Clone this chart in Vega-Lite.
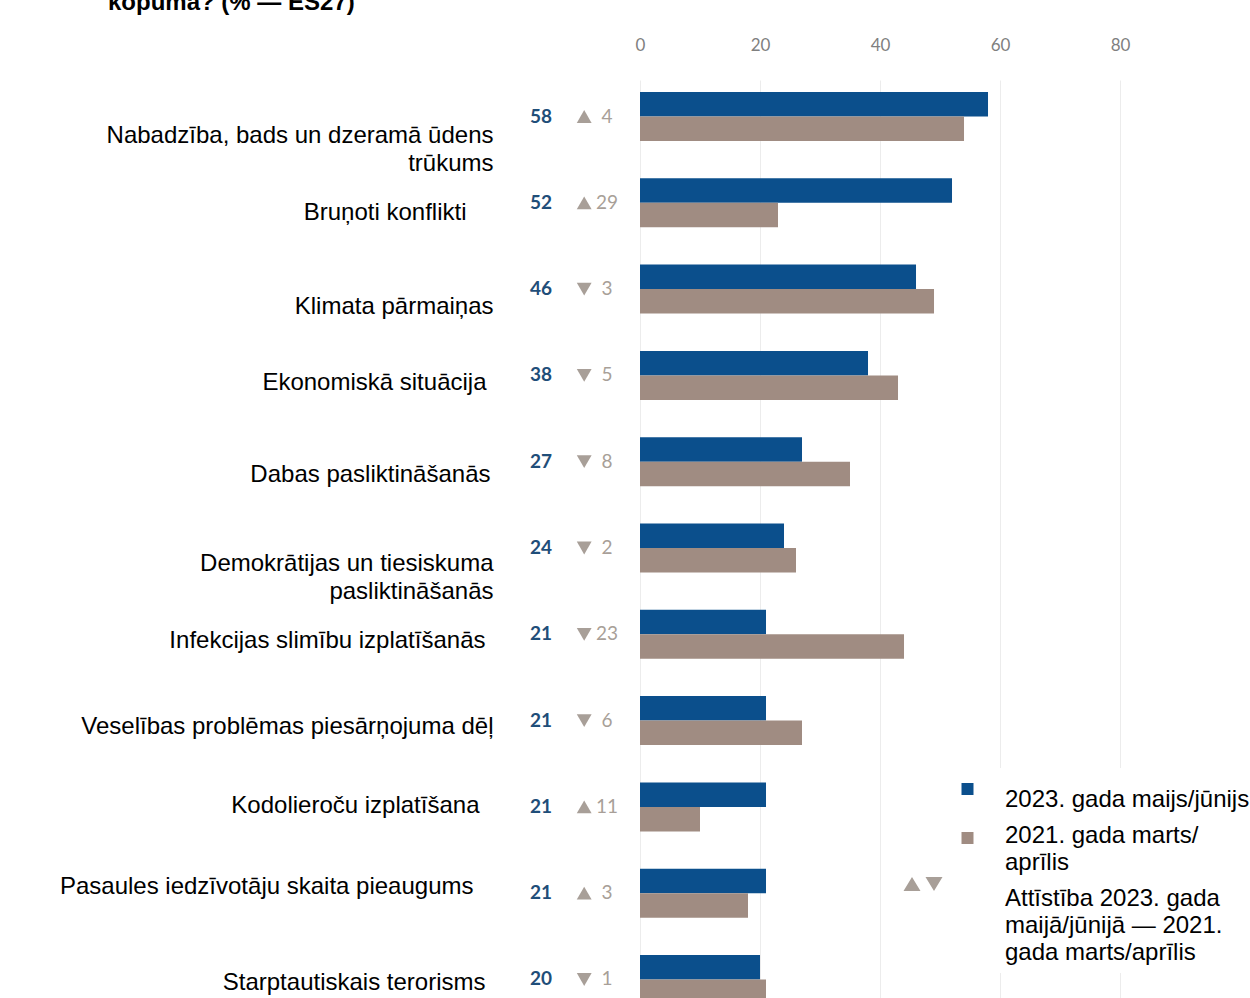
{
  "$schema": "https://vega.github.io/schema/vega-lite/v6.json",
  "autosize": {"type": "none"},
  "padding": {"left": 640, "top": 80, "right": 44, "bottom": 0},
  "width": 566,
  "height": 918,
  "background": "white",
  "title": {
    "text": "kopumā? (% — ES27)",
    "anchor": "start",
    "frame": "group",
    "dx": -532,
    "font": "Liberation Sans",
    "fontSize": 24,
    "fontWeight": "bold",
    "color": "black",
    "baseline": "alphabetic",
    "offset": 2
  },
  "datasets": {
    "bars": [
      {"category": "Nabadzība, bads un dzeramā ūdens trūkums", "series": "2023. gada maijs/jūnijs", "value": 58},
      {"category": "Nabadzība, bads un dzeramā ūdens trūkums", "series": "2021. gada marts/aprīlis", "value": 54},
      {"category": "Bruņoti konflikti", "series": "2023. gada maijs/jūnijs", "value": 52},
      {"category": "Bruņoti konflikti", "series": "2021. gada marts/aprīlis", "value": 23},
      {"category": "Klimata pārmaiņas", "series": "2023. gada maijs/jūnijs", "value": 46},
      {"category": "Klimata pārmaiņas", "series": "2021. gada marts/aprīlis", "value": 49},
      {"category": "Ekonomiskā situācija", "series": "2023. gada maijs/jūnijs", "value": 38},
      {"category": "Ekonomiskā situācija", "series": "2021. gada marts/aprīlis", "value": 43},
      {"category": "Dabas pasliktināšanās", "series": "2023. gada maijs/jūnijs", "value": 27},
      {"category": "Dabas pasliktināšanās", "series": "2021. gada marts/aprīlis", "value": 35},
      {"category": "Demokrātijas un tiesiskuma pasliktināšanās", "series": "2023. gada maijs/jūnijs", "value": 24},
      {"category": "Demokrātijas un tiesiskuma pasliktināšanās", "series": "2021. gada marts/aprīlis", "value": 26},
      {"category": "Infekcijas slimību izplatīšanās", "series": "2023. gada maijs/jūnijs", "value": 21},
      {"category": "Infekcijas slimību izplatīšanās", "series": "2021. gada marts/aprīlis", "value": 44},
      {"category": "Veselības problēmas piesārņojuma dēļ", "series": "2023. gada maijs/jūnijs", "value": 21},
      {"category": "Veselības problēmas piesārņojuma dēļ", "series": "2021. gada marts/aprīlis", "value": 27},
      {"category": "Kodolieroču izplatīšana", "series": "2023. gada maijs/jūnijs", "value": 21},
      {"category": "Kodolieroču izplatīšana", "series": "2021. gada marts/aprīlis", "value": 10},
      {"category": "Pasaules iedzīvotāju skaita pieaugums", "series": "2023. gada maijs/jūnijs", "value": 21},
      {"category": "Pasaules iedzīvotāju skaita pieaugums", "series": "2021. gada marts/aprīlis", "value": 18},
      {"category": "Starptautiskais terorisms", "series": "2023. gada maijs/jūnijs", "value": 20},
      {"category": "Starptautiskais terorisms", "series": "2021. gada marts/aprīlis", "value": 21}
    ],
    "labels": [
      {"category": "Nabadzība, bads un dzeramā ūdens trūkums", "v2023": 58, "dir": "up", "change": 4},
      {"category": "Bruņoti konflikti", "v2023": 52, "dir": "up", "change": 29},
      {"category": "Klimata pārmaiņas", "v2023": 46, "dir": "down", "change": 3},
      {"category": "Ekonomiskā situācija", "v2023": 38, "dir": "down", "change": 5},
      {"category": "Dabas pasliktināšanās", "v2023": 27, "dir": "down", "change": 8},
      {"category": "Demokrātijas un tiesiskuma pasliktināšanās", "v2023": 24, "dir": "down", "change": 2},
      {"category": "Infekcijas slimību izplatīšanās", "v2023": 21, "dir": "down", "change": 23},
      {"category": "Veselības problēmas piesārņojuma dēļ", "v2023": 21, "dir": "down", "change": 6},
      {"category": "Kodolieroču izplatīšana", "v2023": 21, "dir": "up", "change": 11},
      {"category": "Pasaules iedzīvotāju skaita pieaugums", "v2023": 21, "dir": "up", "change": 3},
      {"category": "Starptautiskais terorisms", "v2023": 20, "dir": "down", "change": 1}
    ]
  },
  "encoding": {
    "y": {
      "field": "category",
      "type": "nominal",
      "scale": {
        "domain": [
          "Nabadzība, bads un dzeramā ūdens trūkums",
          "Bruņoti konflikti",
          "Klimata pārmaiņas",
          "Ekonomiskā situācija",
          "Dabas pasliktināšanās",
          "Demokrātijas un tiesiskuma pasliktināšanās",
          "Infekcijas slimību izplatīšanās",
          "Veselības problēmas piesārņojuma dēļ",
          "Kodolieroču izplatīšana",
          "Pasaules iedzīvotāju skaita pieaugums",
          "Starptautiskais terorisms"
        ],
        "range": [0, 936],
        "paddingInner": 0.432,
        "paddingOuter": 0.139
      },
      "axis": {
        "title": null,
        "domain": false,
        "ticks": false,
        "labelFont": "Liberation Sans",
        "labelFontSize": 24,
        "labelColor": "black",
        "labelLimit": 0,
        "labelLineHeight": 28,
        "labelExpr": "datum.label == 'Nabadzība, bads un dzeramā ūdens trūkums' ? ['Nabadzība, bads un dzeramā ūdens', 'trūkums'] : datum.label == 'Demokrātijas un tiesiskuma pasliktināšanās' ? ['Demokrātijas un tiesiskuma', 'pasliktināšanās'] : datum.label",
        "labelPadding": {
          "condition": [
            {"test": "datum.value == 'Bruņoti konflikti'", "value": 174},
            {"test": "datum.value == 'Ekonomiskā situācija'", "value": 154},
            {"test": "datum.value == 'Dabas pasliktināšanās'", "value": 150},
            {"test": "datum.value == 'Infekcijas slimību izplatīšanās'", "value": 155},
            {"test": "datum.value == 'Kodolieroču izplatīšana'", "value": 161},
            {"test": "datum.value == 'Pasaules iedzīvotāju skaita pieaugums'", "value": 167},
            {"test": "datum.value == 'Starptautiskais terorisms'", "value": 155}
          ],
          "value": 147
        },
        "labelOffset": {
          "condition": [
            {"test": "datum.value == 'Nabadzība, bads un dzeramā ūdens trūkums'", "value": 19},
            {"test": "datum.value == 'Bruņoti konflikti'", "value": 10},
            {"test": "datum.value == 'Klimata pārmaiņas'", "value": 18},
            {"test": "datum.value == 'Ekonomiskā situācija'", "value": 8},
            {"test": "datum.value == 'Dabas pasliktināšanās'", "value": 13},
            {"test": "datum.value == 'Demokrātijas un tiesiskuma pasliktināšanās'", "value": 16},
            {"test": "datum.value == 'Infekcijas slimību izplatīšanās'", "value": 7},
            {"test": "datum.value == 'Veselības problēmas piesārņojuma dēļ'", "value": 6},
            {"test": "datum.value == 'Kodolieroču izplatīšana'", "value": -1},
            {"test": "datum.value == 'Pasaules iedzīvotāju skaita pieaugums'", "value": -6}
          ],
          "value": 4
        }
      }
    }
  },
  "layer": [
    {
      "data": {"name": "bars"},
      "mark": {"type": "bar"},
      "encoding": {
        "x": {
          "field": "value",
          "type": "quantitative",
          "scale": {"domain": [0, 94.33], "nice": false},
          "axis": {
            "orient": "top",
            "title": null,
            "values": [0, 20, 40, 60, 80],
            "domain": false,
            "ticks": false,
            "tickSize": 0,
            "labelFlush": false,
            "labelPadding": 26,
            "labelFont": "Lato",
            "labelFontSize": 17,
            "labelColor": "#7f7f7f",
            "grid": true,
            "gridColor": "#ececec"
          }
        },
        "yOffset": {
          "field": "series",
          "type": "nominal",
          "scale": {"domain": ["2023. gada maijs/jūnijs", "2021. gada marts/aprīlis"]}
        },
        "color": {
          "field": "series",
          "type": "nominal",
          "scale": {
            "domain": [
              "2023. gada maijs/jūnijs",
              "2021. gada marts/aprīlis",
              "Attīstība 2023. gada maijā/jūnijā — 2021. gada marts/aprīlis"
            ],
            "range": ["#0b4f8c", "#a08c82", "#a89f98"]
          },
          "legend": {
            "orient": "none",
            "legendX": 310,
            "legendY": 688,
            "title": null,
            "padding": 8,
            "fillColor": "white",
            "symbolType": "square",
            "symbolSize": 4,
            "symbolStrokeWidth": 0,
            "labelFont": "Liberation Sans",
            "labelFontSize": 24,
            "labelColor": "black",
            "labelLimit": 0,
            "labelOffset": 23,
            "labelBaseline": "top",
            "rowPadding": 0,
            "labelExpr": "datum.label == '2021. gada marts/aprīlis' ? ['2021. gada marts/', 'aprīlis'] : datum.label == 'Attīstība 2023. gada maijā/jūnijā — 2021. gada marts/aprīlis' ? ['Attīstība 2023. gada', 'maijā/jūnijā — 2021.', 'gada marts/aprīlis'] : datum.label",
            "encode": {
              "labels": {"update": {"lineHeight": {"value": 27}}},
              "symbols": {
                "update": {
                  "shape": {"signal": "datum.value == 'Attīstība 2023. gada maijā/jūnijā — 2021. gada marts/aprīlis' ? 'M-66.5,4.1L-58,-9.9L-49.5,4.1ZM-44.5,-9.9L-27.5,-9.9L-36,4.1Z' : datum.value == '2021. gada marts/aprīlis' ? 'M-8.5,8L3.5,8L3.5,20L-8.5,20Z' : 'M-8.5,-5L3.5,-5L3.5,7L-8.5,7Z'"}
                }
              }
            }
          }
        }
      }
    },
    {
      "data": {"name": "labels"},
      "mark": {"type": "text", "dx": -99, "align": "center", "baseline": "middle", "font": "Lato", "fontSize": 19, "fontWeight": "bold", "color": "#1f4e79"},
      "encoding": {
        "x": {"datum": 0, "type": "quantitative"},
        "text": {"field": "v2023", "type": "quantitative"}
      }
    },
    {
      "data": {"name": "labels"},
      "mark": {"type": "point", "filled": true, "opacity": 1, "size": 220},
      "encoding": {
        "x": {"datum": -9.3, "type": "quantitative"},
        "shape": {
          "field": "dir",
          "type": "nominal",
          "scale": {"domain": ["up", "down"], "range": ["triangle-up", "triangle-down"]},
          "legend": null
        },
        "color": {"datum": "Attīstība 2023. gada maijā/jūnijā — 2021. gada marts/aprīlis"}
      }
    },
    {
      "data": {"name": "labels"},
      "mark": {"type": "text", "dx": -33, "align": "center", "baseline": "middle", "font": "Lato", "fontSize": 19, "color": "#a89f98"},
      "encoding": {
        "x": {"datum": 0, "type": "quantitative"},
        "text": {"field": "change", "type": "quantitative"}
      }
    }
  ],
  "config": {"view": {"stroke": null}}
}
